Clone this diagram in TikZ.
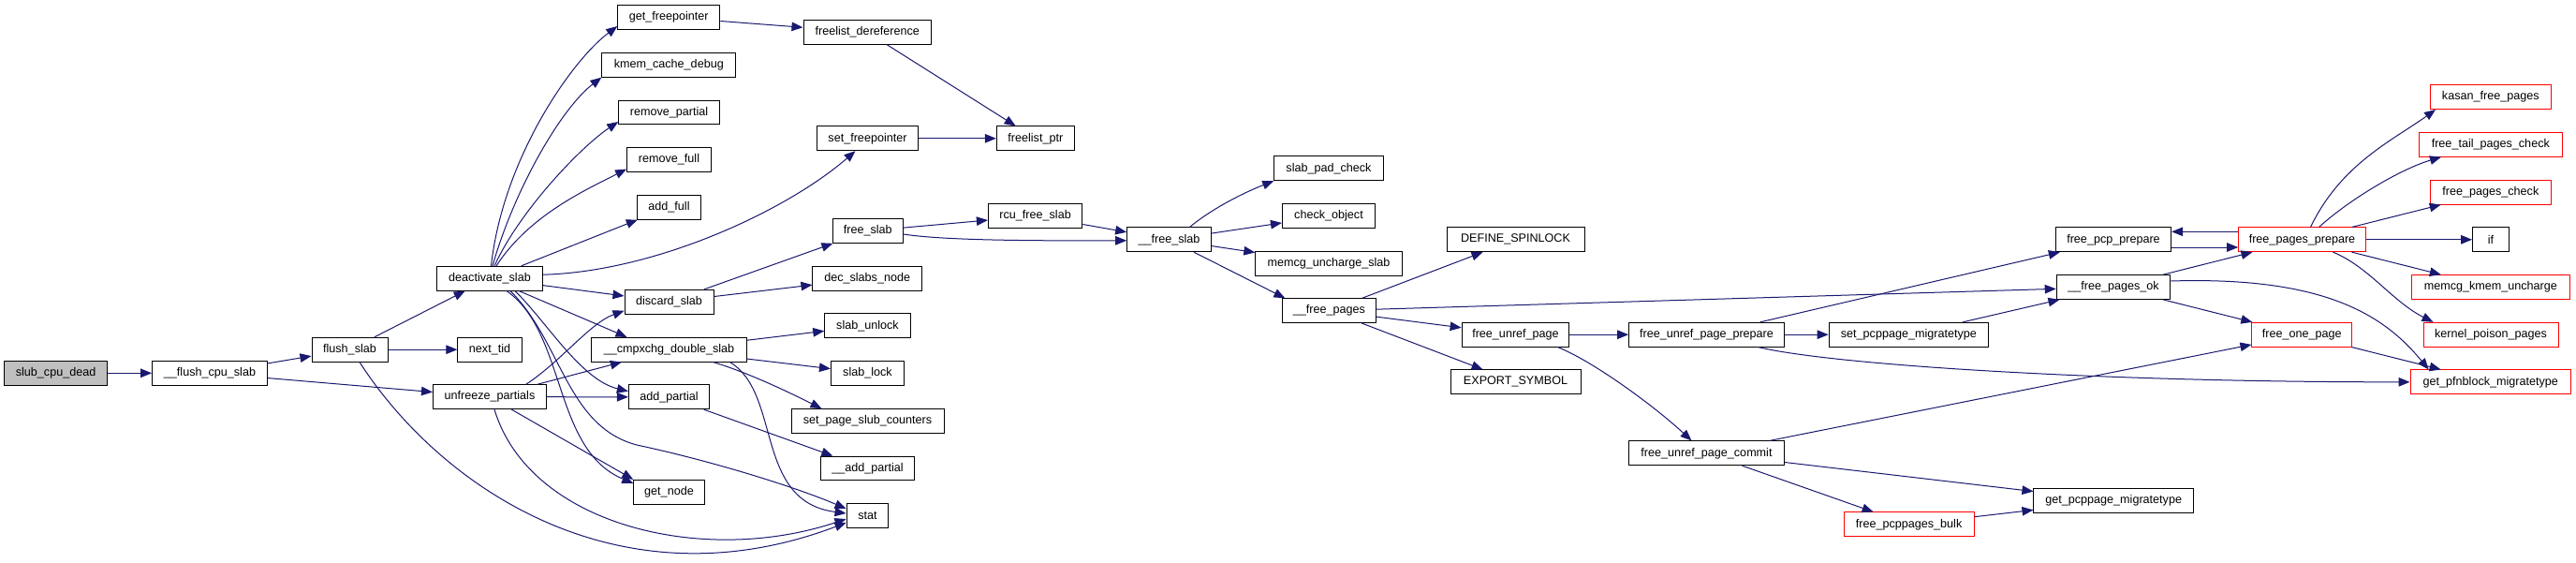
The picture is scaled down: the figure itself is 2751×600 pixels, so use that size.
\documentclass[tikz,border=0pt]{standalone}
\usepackage{fontspec}
\setmainfont{Liberation Sans}
\usetikzlibrary{arrows.meta}
\definecolor{edgec}{HTML}{191970}
\definecolor{redc}{HTML}{FF0000}
\definecolor{greyc}{HTML}{BFBFBF}
\tikzset{
 nd/.style={draw=black, line width=1pt, minimum height=25.7pt, inner xsep=2pt, inner ysep=0pt, font=\fontsize{12.6}{14}\selectfont, fill=white},
 rednd/.style={nd, draw=redc},
 rootnd/.style={nd, fill=greyc},
 e/.style={draw=edgec, line width=1pt, -{Triangle[length=12pt,width=9.5pt]}},
}
\begin{document}
\begin{tikzpicture}[x=1pt,y=1pt]
\fill[white] (0,0) rectangle (2751,-600);
\useasboundingbox (0,0) rectangle (2751,-600);
\node[rootnd, minimum width=110.2pt] (scd) at (59.6,-398.3) {slub\_cpu\_dead};
\node[nd, minimum width=122.8pt] (fcs) at (224,-398.3) {\_\_flush\_cpu\_slab};
\node[nd, minimum width=81pt] (fls) at (373.5,-373.2) {flush\_slab};
\node[nd, minimum width=68.3pt] (ntid) at (523,-373.2) {next\_tid};
\node[nd, minimum width=121pt] (unf) at (523,-423.7) {unfreeze\_partials};
\node[nd, minimum width=113pt] (dea) at (523,-297.2) {deactivate\_slab};
\node[nd, minimum width=109pt] (gfp) at (714.3,-18.3) {get\_freepointer};
\node[nd, minimum width=142.8pt] (kmem) at (714.3,-69.3) {kmem\_cache\_debug};
\node[nd, minimum width=107.6pt] (rmp) at (714.5,-120) {remove\_partial};
\node[nd, minimum width=89.8pt] (rmf) at (714.5,-170.5) {remove\_full};
\node[nd, minimum width=67.4pt] (adf) at (714.5,-221.2) {add\_full};
\node[nd, minimum width=95pt] (dsl) at (714.5,-322.2) {discard\_slab};
\node[nd, minimum width=165.6pt] (cmp) at (714.5,-373.2) {\_\_cmpxchg\_double\_slab};
\node[nd, minimum width=86.2pt] (addp) at (714.5,-423.8) {add\_partial};
\node[nd, minimum width=75.4pt] (gnode) at (714.5,-525.2) {get\_node};
\node[nd, minimum width=136.6pt] (fld) at (926.3,-34.5) {freelist\_dereference};
\node[nd, minimum width=108.5pt] (sfp) at (926.5,-147.8) {set\_freepointer};
\node[nd, minimum width=75pt] (fsl) at (926.8,-246.5) {free\_slab};
\node[nd, minimum width=116.5pt] (dsn) at (926.2,-297.2) {dec\_slabs\_node};
\node[nd, minimum width=91.5pt] (sunl) at (926.5,-347.8) {slab\_unlock};
\node[nd, minimum width=78.1pt] (slk) at (926.5,-398.3) {slab\_lock};
\node[nd, minimum width=163pt] (sps) at (926.5,-449.5) {set\_page\_slub\_counters};
\node[nd, minimum width=99.5pt] (uaddp) at (926.5,-500) {\_\_add\_partial};
\node[nd, minimum width=44.7pt] (stat) at (926.4,-550.5) {stat};
\node[nd, minimum width=83pt] (flp) at (1105.8,-147.8) {freelist\_ptr};
\node[nd, minimum width=100.4pt] (rcu) at (1105.6,-230.5) {rcu\_free\_slab};
\node[nd, minimum width=89.7pt] (ffsl) at (1248.5,-255.8) {\_\_free\_slab};
\node[nd, minimum width=116.5pt] (spc) at (1419,-179.8) {slab\_pad\_check};
\node[nd, minimum width=99.1pt] (cko) at (1419,-230.5) {check\_object};
\node[nd, minimum width=156.3pt] (mus) at (1419,-281.2) {memcg\_uncharge\_slab};
\node[nd, minimum width=100.4pt] (fpg) at (1419.4,-331.7) {\_\_free\_pages};
\node[nd, minimum width=147pt] (dsp) at (1618.5,-255.8) {DEFINE\_SPINLOCK};
\node[nd, minimum width=114.7pt] (fup) at (1618.5,-357.2) {free\_unref\_page};
\node[nd, minimum width=139pt] (exs) at (1618.5,-407.8) {EXPORT\_SYMBOL};
\node[nd, minimum width=165.7pt] (fupp) at (1822.5,-357.2) {free\_unref\_page\_prepare};
\node[nd, minimum width=165.7pt] (fuc) at (1822.5,-483.8) {free\_unref\_page\_commit};
\node[nd, minimum width=170.6pt] (spm) at (2038.4,-357.2) {set\_pcppage\_migratetype};
\node[rednd, minimum width=138.8pt] (fpb) at (2038.6,-559.8) {free\_pcppages\_bulk};
\node[nd, minimum width=123.2pt] (fpp) at (2257,-255.8) {free\_pcp\_prepare};
\node[nd, minimum width=121.5pt] (fpok) at (2257,-306.5) {\_\_free\_pages\_ok};
\node[nd, minimum width=170.5pt] (gpm) at (2257.2,-534.5) {get\_pcppage\_migratetype};
\node[rednd, minimum width=135.7pt] (fpgp) at (2458.5,-255.8) {free\_pages\_prepare};
\node[rednd, minimum width=106.7pt] (fop) at (2458.3,-357.2) {free\_one\_page};
\node[rednd, minimum width=128.6pt] (kasan) at (2659.8,-103.7) {kasan\_free\_pages};
\node[rednd, minimum width=152.7pt] (ftpc) at (2659.8,-154.3) {free\_tail\_pages\_check};
\node[rednd, minimum width=128.6pt] (fpc) at (2659.8,-205.2) {free\_pages\_check};
\node[nd, minimum width=38.9pt] (ifn) at (2660,-255.8) {if};
\node[rednd, minimum width=168.8pt] (mku) at (2659.8,-306.5) {memcg\_kmem\_uncharge};
\node[rednd, minimum width=144pt] (kpp) at (2660,-357.2) {kernel\_poison\_pages};
\node[rednd, minimum width=171.5pt] (gpf) at (2659.8,-407.8) {get\_pfnblock\_migratetype};
% edges
\draw[e] (scd) -- (fcs);
\draw[e] (fcs) -- (fls);
\draw[e] (fcs) -- (unf);
\draw[e] (fls) -- (dea);
\draw[e] (fls) -- (ntid);
\draw[e] ([xshift=10.5pt]fls.south) .. controls (470,-520) and (660,-650) .. ([yshift=-7.5pt]stat.west);
\draw[e] ([xshift=1.5pt]dea.north) .. controls (537,-170) and (610,-65) .. ([yshift=-9.7pt]gfp.west);
\draw[e] ([xshift=3pt]dea.north) .. controls (550,-200) and (600,-115) .. (kmem.south west);
\draw[e] ([xshift=5pt]dea.north) .. controls (555,-225) and (620,-157) .. ([yshift=-10pt]rmp.west);
\draw[e] ([xshift=7pt]dea.north) .. controls (565,-230) and (625,-203) .. ([yshift=-10pt]rmf.west);
\draw[e] (dea) -- (adf);
\draw[e] ([yshift=4pt]dea.east) .. controls (700,-290) and (840,-225) .. ([xshift=-13pt]sfp.south);
\draw[e] (dea) -- (dsl);
\draw[e] (dea) -- ([xshift=-45pt]cmp.north);
\draw[e] ([xshift=27pt]dea.south) .. controls (585,-345) and (620,-405) .. ([yshift=6pt]addp.west);
\draw[e] ([xshift=18pt]dea.south) .. controls (605,-355) and (590,-480) .. ([yshift=-4pt]gnode.north west);
\draw[e] ([xshift=22pt]dea.south) .. controls (600,-365) and (605,-455) .. (680,-475) .. controls (760,-492) and (850,-520) .. ([yshift=7.5pt]stat.west);
\draw[e] ([xshift=38.7pt]unf.north) .. controls (600,-385) and (630,-345) .. ([yshift=-9.5pt]dsl.west);
\draw[e] (unf) -- (cmp);
\draw[e] (unf) -- (addp);
\draw[e] (unf) -- (gnode.north west);
\draw[e] ([xshift=5pt]unf.south) .. controls (565,-560) and (750,-605) .. ([yshift=-3.5pt]stat.west);
\draw[e] (gfp) -- (fld);
\draw[e] (fld) -- (flp);
\draw[e] (sfp) -- (flp);
\draw[e] (dsl) -- (fsl);
\draw[e] (dsl) -- (dsn);
\draw[e] (cmp) -- (sunl);
\draw[e] (cmp) -- (slk);
\draw[e] ([xshift=47pt]cmp.south) .. controls (800,-398) and (845,-420) .. ([xshift=-49pt]sps.north);
\draw[e] ([xshift=65pt]cmp.south) .. controls (835,-420) and (805,-535) .. ([yshift=2.5pt]stat.west);
\draw[e] (addp) -- (uaddp);
\draw[e] (fsl) -- (rcu);
\draw[e] ([yshift=-3.5pt]fsl.east) .. controls (1010,-257) and (1110,-257) .. ([yshift=-1pt]ffsl.west);
\draw[e] (rcu) -- (ffsl);
\draw[e] ([xshift=22pt]ffsl.north) .. controls (1295,-222) and (1330,-205) .. (spc.south west);
\draw[e] (ffsl) -- (cko);
\draw[e] (ffsl) -- (mus);
\draw[e] (ffsl) -- ([xshift=-47pt]fpg.north);
\draw[e] (fpg) -- (dsp);
\draw[e] (fpg) -- (fpok);
\draw[e] (fpg) -- (fup);
\draw[e] (fpg) -- (exs);
\draw[e] (fup) -- (fupp);
\draw[e] ([xshift=45pt]fup.south) .. controls (1700,-385) and (1765,-432) .. ([xshift=-16pt]fuc.north);
\draw[e] (fupp) -- (fpp);
\draw[e] (fupp) -- (spm);
\draw[e] ([xshift=55pt]fupp.south) .. controls (1960,-390) and (2250,-408) .. (gpf.west);
\draw[e] (spm) -- (fpok);
\draw[e] (fuc) -- (fop);
\draw[e] (fuc) -- (gpm);
\draw[e] (fuc) -- (fpb);
\draw[e] (fpb) -- (gpm);
\draw[e] ([yshift=-8.2pt]fpp.east) -- ([yshift=-8.2pt]fpgp.west);
\draw[e] ([yshift=8.5pt]fpgp.west) -- ([yshift=8.5pt]fpp.east);
\draw[e] (fpok) -- (fpgp);
\draw[e] (fpok) -- (fop);
\draw[e] ([yshift=6.5pt]fpok.east) .. controls (2480,-295) and (2545,-335) .. ([xshift=20pt]gpf.north west);
\draw[e] (fop) -- (gpf);
\draw[e] ([xshift=9pt]fpgp.north) .. controls (2500,-175) and (2555,-150) .. ([xshift=6pt]kasan.south west);
\draw[e] ([xshift=18pt]fpgp.north) .. controls (2510,-212) and (2565,-180) .. ([xshift=24pt]ftpc.south west);
\draw[e] (fpgp) -- (fpc);
\draw[e] (fpgp) -- (ifn);
\draw[e] (fpgp) -- (mku);
\draw[e] ([xshift=33pt]fpgp.south) .. controls (2530,-285) and (2555,-322) .. ([xshift=11pt]kpp.north west);
\end{tikzpicture}
\end{document}
